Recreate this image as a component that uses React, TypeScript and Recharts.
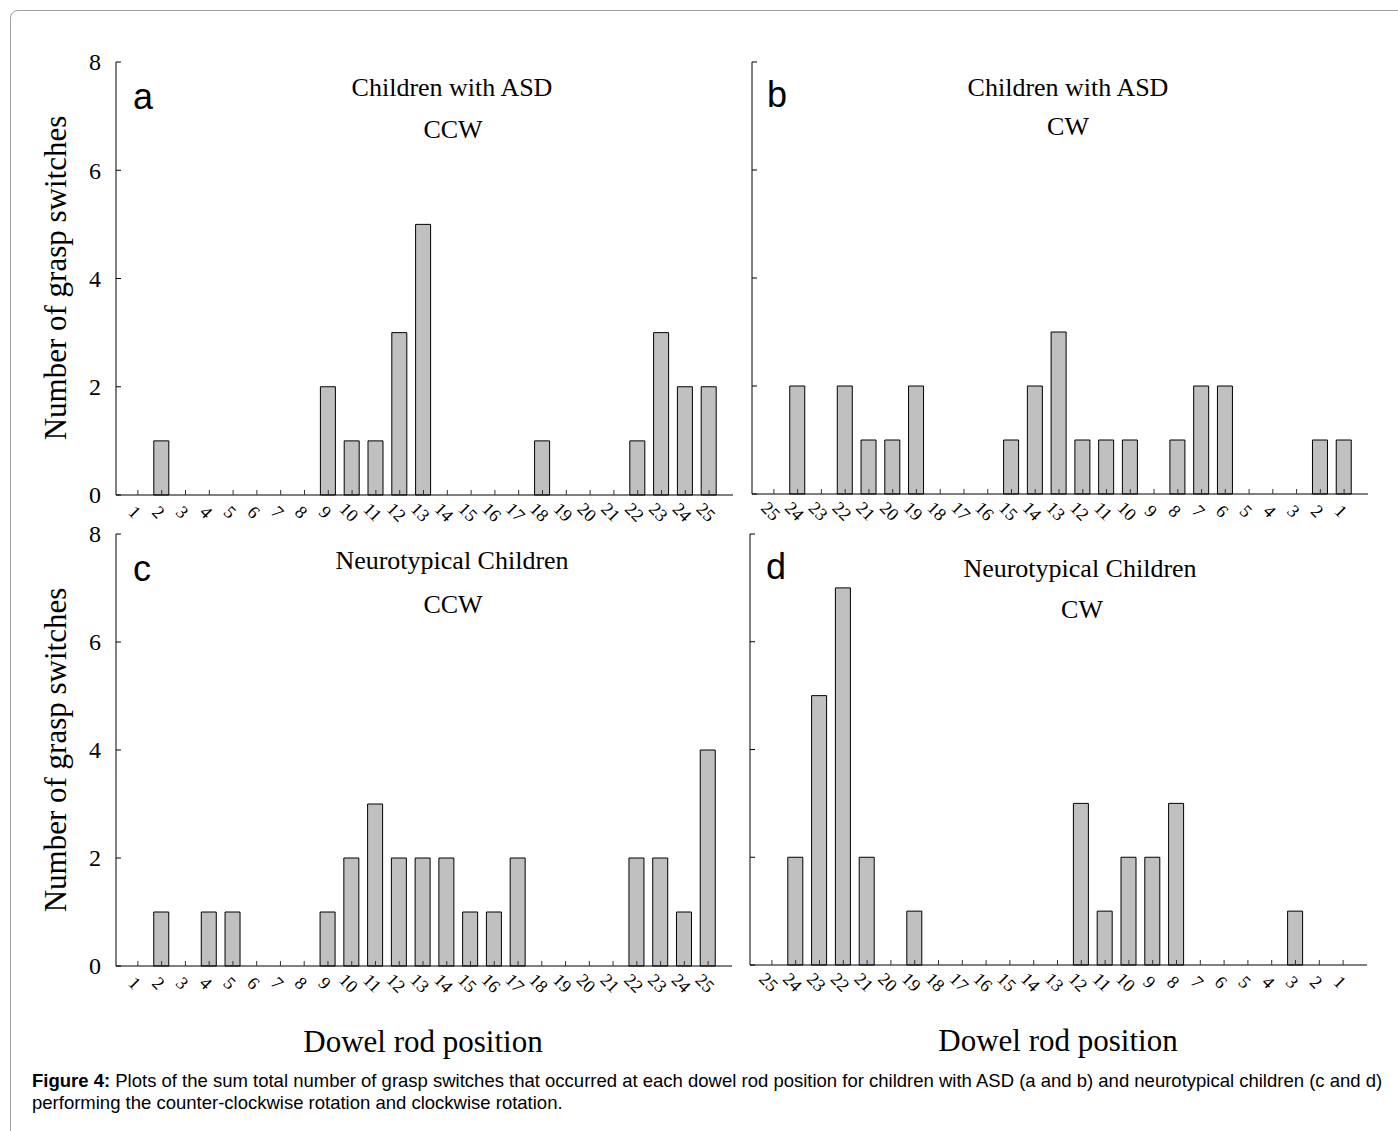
import React from "react";
import { Bar, BarChart, XAxis, YAxis } from "recharts";

// dowel rod positions, in the order each rotation passes them
const ccwPositions = ["1", "2", "3", "4", "5", "6", "7", "8", "9", "10", "11", "12", "13", "14", "15", "16", "17", "18", "19", "20", "21", "22", "23", "24", "25"];
const cwPositions = ["25", "24", "23", "22", "21", "20", "19", "18", "17", "16", "15", "14", "13", "12", "11", "10", "9", "8", "7", "6", "5", "4", "3", "2", "1"];

// grasp switch counts, same order as the positions above
const asdCcwCounts = [0, 1, 0, 0, 0, 0, 0, 0, 2, 1, 1, 3, 5, 0, 0, 0, 0, 1, 0, 0, 0, 1, 3, 2, 2];
const asdCwCounts = [0, 2, 0, 2, 1, 1, 2, 0, 0, 0, 1, 2, 3, 1, 1, 1, 0, 1, 2, 2, 0, 0, 0, 1, 1];
const ntCcwCounts = [0, 1, 0, 1, 1, 0, 0, 0, 1, 2, 3, 2, 2, 2, 1, 1, 2, 0, 0, 0, 0, 2, 2, 1, 4];
const ntCwCounts = [0, 2, 5, 7, 2, 0, 1, 0, 0, 0, 0, 0, 0, 3, 1, 2, 2, 3, 0, 0, 0, 0, 1, 0, 0];

const yTicks = [0, 2, 4, 6, 8];

const serif = '"Liberation Serif", "Times New Roman", serif';
const sans = '"Liberation Sans", Arial, sans-serif';

const Y_W = 60;
const TOP = 20;
const X_H = 45;
const RIGHT = 10;
const TICK_M = 15;

function makeRows(positions: string[], counts: number[]) {
    return positions.map((p, i) => ({ pos: p, count: counts[i] }));
}

function YTick(props: any) {
    const { x, y, payload, showLabel } = props;
    const ax = x + TICK_M;
    return (
        <g>
            <line x1={ax} y1={y} x2={ax + 5} y2={y} stroke="#000" strokeWidth={1} />
            {showLabel && (
                <text x={ax - 15} y={y} dy="0.35em" textAnchor="end" fontFamily={serif} fontSize={24} fill="#000">
                    {payload.value}
                </text>
            )}
        </g>
    );
}

function XTick(props: any) {
    const { x, y, payload } = props;
    const ay = y - TICK_M;
    const lx = x - 3;
    const ly = ay + 17;
    return (
        <g>
            <line x1={x} y1={ay} x2={x} y2={ay - 5} stroke="#333" strokeWidth={1} />
            <text
                x={lx}
                y={ly}
                dy="0.35em"
                textAnchor="middle"
                fontFamily={serif}
                fontSize={18}
                fill="#000"
                transform={`rotate(45 ${lx} ${ly})`}
            >
                {payload.value}
            </text>
        </g>
    );
}

interface PanelProps {
    rows: { pos: string; count: number }[];
    plotLeft: number;
    plotTop: number;
    plotWidth: number;
    plotHeight: number;
    showYLabels: boolean;
}

function Panel({ rows, plotLeft, plotTop, plotWidth, plotHeight, showYLabels }: PanelProps) {
    return (
        <div style={{ position: "absolute", left: plotLeft - Y_W, top: plotTop - TOP }}>
            <BarChart
                width={plotWidth + Y_W + RIGHT}
                height={plotHeight + TOP + X_H}
                data={rows}
                margin={{ top: TOP, right: RIGHT, left: 0, bottom: 0 }}
                barCategoryGap={0}
            >
                <XAxis
                    dataKey="pos"
                    type="category"
                    interval={0}
                    height={X_H}
                    padding={{ left: 10, right: 12 }}
                    axisLine={{ stroke: "#000", strokeWidth: 1 }}
                    tickLine={false}
                    tickSize={0}
                    tickMargin={TICK_M}
                    tick={(p: any) => <XTick {...p} />}
                />
                <YAxis
                    domain={[0, 8]}
                    ticks={yTicks}
                    interval={0}
                    width={Y_W}
                    axisLine={{ stroke: "#000", strokeWidth: 1 }}
                    tickLine={false}
                    tickSize={0}
                    tickMargin={TICK_M}
                    tick={(p: any) => <YTick {...p} showLabel={showYLabels} />}
                />
                <Bar dataKey="count" fill="#c0c0c0" stroke="#000" strokeWidth={1} barSize={15} isAnimationActive={false} />
            </BarChart>
        </div>
    );
}

function Label({ x, y, text, size, family, rotate }: { x: number; y: number; text: string; size: number; family: string; rotate?: number }) {
    return (
        <div
            style={{
                position: "absolute",
                left: x,
                top: y,
                transform: `translate(-50%, -50%)${rotate ? ` rotate(${rotate}deg)` : ""}`,
                fontFamily: family,
                fontSize: size,
                lineHeight: 1,
                whiteSpace: "nowrap",
                color: "#000",
            }}
        >
            {text}
        </div>
    );
}

export default function App() {
    return (
        <div style={{ position: "absolute", left: 0, top: 0, width: 1398, height: 1131, overflow: "hidden", background: "#fff" }}>
            <div
                style={{
                    position: "absolute",
                    left: 10,
                    top: 10,
                    width: 1420,
                    height: 1160,
                    border: "1px solid #a0a0a0",
                    borderRadius: 8,
                }}
            />

            <Panel rows={makeRows(ccwPositions, asdCcwCounts)} plotLeft={116} plotTop={62} plotWidth={617} plotHeight={433} showYLabels />
            <Panel rows={makeRows(cwPositions, asdCwCounts)} plotLeft={752} plotTop={62} plotWidth={616} plotHeight={432} showYLabels={false} />
            <Panel rows={makeRows(ccwPositions, ntCcwCounts)} plotLeft={116} plotTop={534} plotWidth={616} plotHeight={432} showYLabels />
            <Panel rows={makeRows(cwPositions, ntCwCounts)} plotLeft={750} plotTop={534} plotWidth={617} plotHeight={431} showYLabels={false} />

            <Label x={143} y={97} text="a" size={36} family={sans} />
            <Label x={777} y={95} text="b" size={36} family={sans} />
            <Label x={142} y={569} text="c" size={36} family={sans} />
            <Label x={776} y={567} text="d" size={36} family={sans} />

            <Label x={452} y={88} text="Children with ASD" size={26} family={serif} />
            <Label x={453} y={130} text="CCW" size={26} family={serif} />
            <Label x={1068} y={88} text="Children with ASD" size={26} family={serif} />
            <Label x={1068} y={127} text="CW" size={26} family={serif} />
            <Label x={452} y={561} text="Neurotypical Children" size={26} family={serif} />
            <Label x={453} y={605} text="CCW" size={26} family={serif} />
            <Label x={1080} y={569} text="Neurotypical Children" size={26} family={serif} />
            <Label x={1082} y={610} text="CW" size={26} family={serif} />

            <Label x={55} y={278} text="Number of grasp switches" size={31} family={serif} rotate={-90} />
            <Label x={55} y={750} text="Number of grasp switches" size={31} family={serif} rotate={-90} />
            <Label x={423} y={1041} text="Dowel rod position" size={31} family={serif} />
            <Label x={1058} y={1040} text="Dowel rod position" size={31} family={serif} />

            <div
                style={{
                    position: "absolute",
                    left: 32,
                    top: 1070,
                    width: 1366,
                    fontFamily: sans,
                    fontSize: 18.5,
                    lineHeight: "22px",
                    color: "#000",
                    whiteSpace: "nowrap",
                }}
            >
                <b>Figure 4:</b> Plots of the sum total number of grasp switches that occurred at each dowel rod position for children with ASD (a and b) and neurotypical children (c and d)
                <br />
                performing the counter-clockwise rotation and clockwise rotation.
            </div>
        </div>
    );
}
